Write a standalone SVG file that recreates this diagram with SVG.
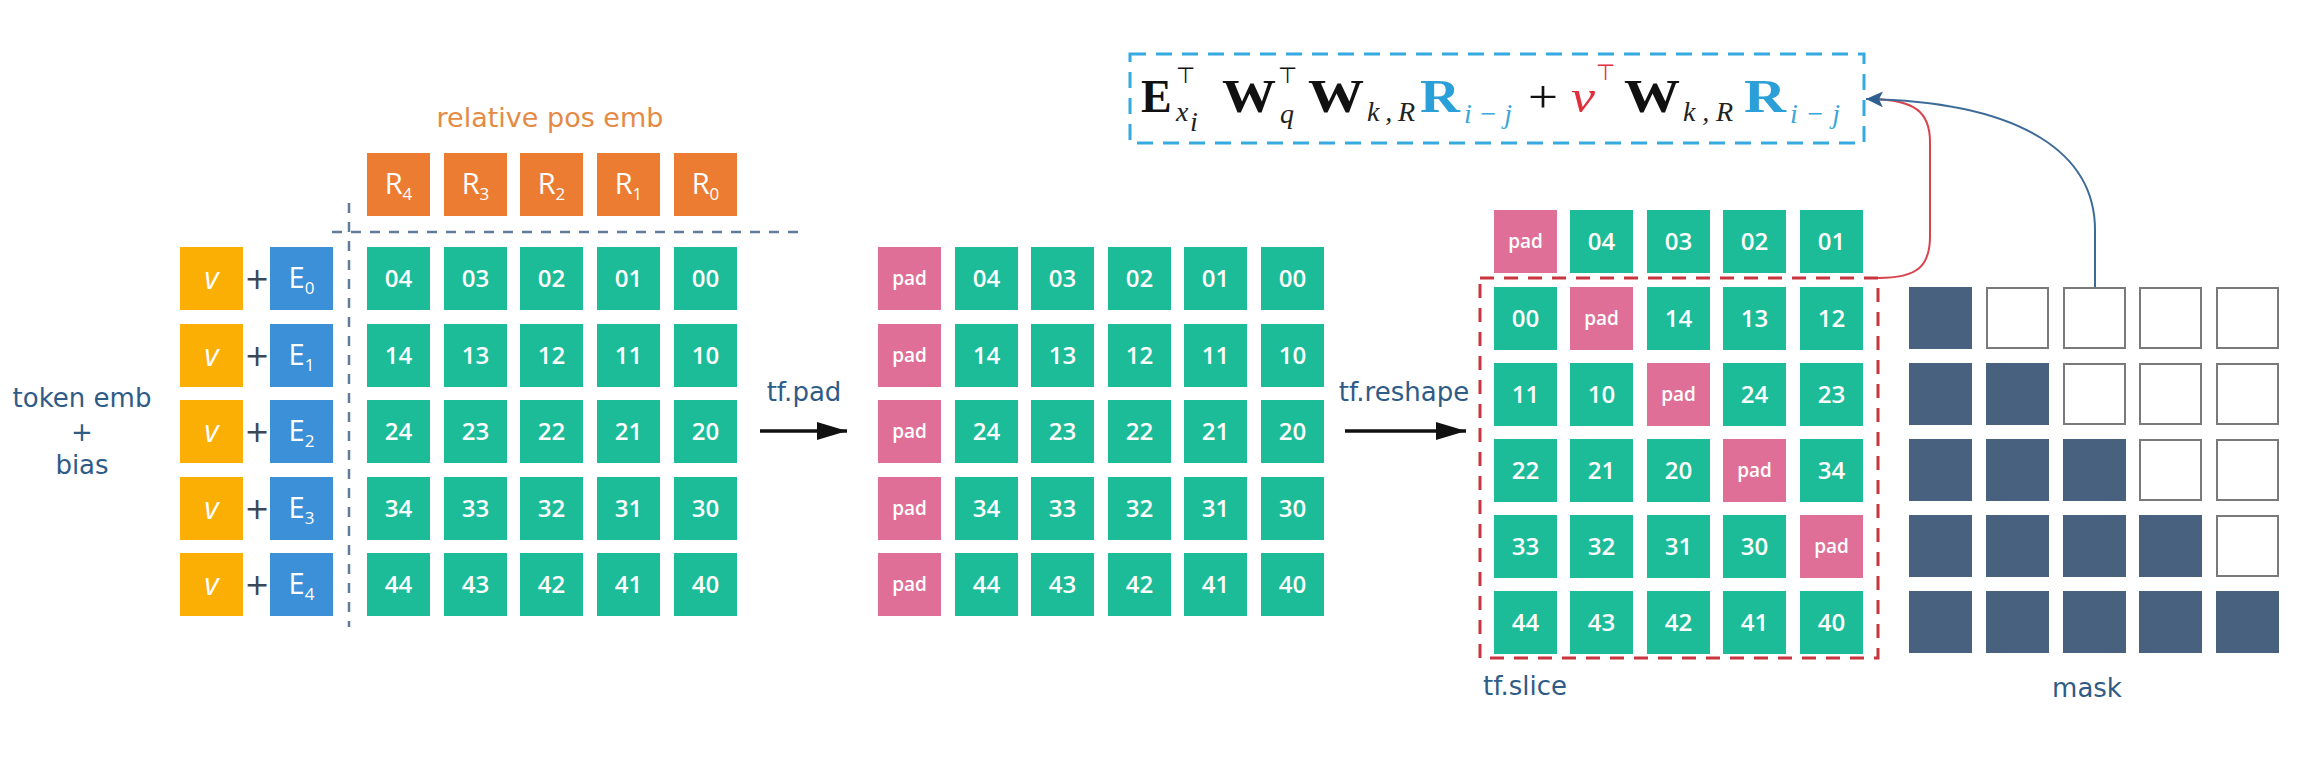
<svg xmlns="http://www.w3.org/2000/svg" width="2317" height="784" viewBox="0 0 2317 784">
<style>
.g{fill:#1bbc97}.p{fill:#df6f96}.o{fill:#ec7c31}.yl{fill:#fbae03}.b{fill:#3b90d8}.mk{fill:#48617f}.me{fill:#fff;stroke:#7a7a7a;stroke-width:2}
.t{font-family:"Open Sans","DejaVu Sans",sans-serif;font-weight:600;font-size:24px;fill:#fff;text-anchor:middle}
.tp{font-size:19px}
.tr{font-family:"Open Sans","DejaVu Sans",sans-serif;font-weight:400;font-size:29px;fill:#fff;text-anchor:middle}
.tv{font-family:"Open Sans","DejaVu Sans",sans-serif;font-style:italic;font-weight:400;font-size:31px;fill:#fff;text-anchor:middle}
.pl{font-family:"DejaVu Sans",sans-serif;font-size:30px;fill:#3a4756;text-anchor:middle}
.lab{font-family:"DejaVu Sans",sans-serif;font-size:26px;fill:#2f5b87}
.rel{font-family:"DejaVu Sans",sans-serif;font-size:27px;fill:#e48a45;text-anchor:middle}
.dl{stroke:#5f7c99;stroke-width:2.5;stroke-dasharray:10 9;fill:none}
.fb{font-family:"Liberation Serif",serif;font-weight:bold;font-size:46px;fill:#111}
.fbb{font-family:"Liberation Serif",serif;font-weight:bold;font-size:46px;fill:#2a9fd8}
.fi{font-family:"Liberation Serif",serif;font-style:italic;font-size:28px;fill:#222}
.fib{font-family:"Liberation Serif",serif;font-style:italic;font-size:28px;fill:#3aa6dc}
.ft{font-family:"DejaVu Sans",sans-serif;font-size:22px;fill:#111}
.ftr{font-family:"DejaVu Sans",sans-serif;font-size:22px;fill:#e0303c}
</style>
<defs>
<marker id="ah" markerUnits="userSpaceOnUse" markerWidth="30" markerHeight="18" refX="30" refY="9" orient="auto"><path d="M0,0 L30,9 L0,18 z" fill="#111"/></marker>
<marker id="ab" markerUnits="userSpaceOnUse" markerWidth="18" markerHeight="16" refX="17" refY="8" orient="auto"><path d="M0,0 L17,8 L0,16 L4,8 z" fill="#2e5f8f"/></marker>
</defs>
<rect width="2317" height="784" fill="#fff"/>

<g id="formula">
<rect x="1130" y="54" width="734" height="89" fill="none" stroke="#35a9e0" stroke-width="3" stroke-dasharray="16 10"/>
<text class="fb" x="1141" y="112">E</text>
<text class="ft" x="1176" y="83">⊤</text>
<text class="fi" x="1176" y="121">x</text>
<text class="fi" x="1190" y="131" font-size="20">i</text>
<text class="fb" x="1222" y="112" textLength="54" lengthAdjust="spacingAndGlyphs">W</text>
<text class="ft" x="1278" y="83">⊤</text>
<text class="fi" x="1280" y="123">q</text>
<text class="fb" x="1308" y="112" textLength="56" lengthAdjust="spacingAndGlyphs">W</text>
<text class="fi" x="1367" y="121" textLength="48" lengthAdjust="spacing">k,R</text>
<text class="fbb" x="1420" y="112" textLength="40" lengthAdjust="spacingAndGlyphs">R</text>
<text class="fib" x="1464" y="123" textLength="48" lengthAdjust="spacing">i−j</text>
<text x="1528" y="112" font-family="Liberation Serif,serif" font-size="46" fill="#111" textLength="30" lengthAdjust="spacingAndGlyphs">+</text>
<text x="1571" y="112" font-family="Liberation Serif,serif" font-style="italic" font-size="46" fill="#e0303c" textLength="24" lengthAdjust="spacingAndGlyphs">v</text>
<text class="ftr" x="1596" y="80">⊤</text>
<text class="fb" x="1624" y="112" textLength="56" lengthAdjust="spacingAndGlyphs">W</text>
<text class="fi" x="1683" y="121" textLength="50" lengthAdjust="spacing">k,R</text>
<text class="fbb" x="1744" y="112" textLength="42" lengthAdjust="spacingAndGlyphs">R</text>
<text class="fib" x="1790" y="123" textLength="50" lengthAdjust="spacing">i−j</text>
</g>

<g id="labels">
<text class="lab" x="82" y="407" text-anchor="middle">token emb</text>
<text class="lab" x="82" y="441" text-anchor="middle">+</text>
<text class="lab" x="82" y="474" text-anchor="middle">bias</text>
<text class="rel" x="550" y="127">relative pos emb</text>
<text class="lab" x="804" y="401" text-anchor="middle">tf.pad</text>
<text class="lab" x="1404" y="401" text-anchor="middle">tf.reshape</text>
<text class="lab" x="1483" y="695">tf.slice</text>
<text class="lab" x="2087" y="697" text-anchor="middle">mask</text>
</g>

<g id="connectors">
<line class="dl" x1="349" y1="203" x2="349" y2="627"/>
<line class="dl" x1="332" y1="232" x2="802" y2="232"/>
<line x1="760" y1="431" x2="847" y2="431" stroke="#111" stroke-width="3.5" marker-end="url(#ah)"/>
<line x1="1345" y1="431" x2="1466" y2="431" stroke="#111" stroke-width="3.5" marker-end="url(#ah)"/>
<rect x="1480" y="278" width="398" height="380" fill="none" stroke="#c9353f" stroke-width="3" stroke-dasharray="14 10"/>
<path d="M1878,278 C1918,278 1930,266 1930,236 L1930,142 C1930,112 1915,100 1872,99" fill="none" stroke="#d9434d" stroke-width="2"/>
<path d="M2095,287 L2095,230 C2095,155 2025,102 1866,99" fill="none" stroke="#3d6b98" stroke-width="2" marker-end="url(#ab)"/>
</g>

<g id="token-bias">
<g id="v0"><rect class="yl" x="180" y="247" width="63" height="63"/><text class="tv" x="211.5" y="289">v</text></g>
<g id="v1"><rect class="yl" x="180" y="324" width="63" height="63"/><text class="tv" x="211.5" y="366">v</text></g>
<g id="v2"><rect class="yl" x="180" y="400" width="63" height="63"/><text class="tv" x="211.5" y="442">v</text></g>
<g id="v3"><rect class="yl" x="180" y="477" width="63" height="63"/><text class="tv" x="211.5" y="519">v</text></g>
<g id="v4"><rect class="yl" x="180" y="553" width="63" height="63"/><text class="tv" x="211.5" y="595">v</text></g>
<text class="pl" x="257" y="289">+</text>
<text class="pl" x="257" y="366">+</text>
<text class="pl" x="257" y="442">+</text>
<text class="pl" x="257" y="519">+</text>
<text class="pl" x="257" y="595">+</text>
<g id="e0"><rect class="b" x="270" y="247" width="63" height="63"/><text class="tr" x="301.5" y="288">E<tspan font-size="17" dy="6">0</tspan></text></g>
<g id="e1"><rect class="b" x="270" y="324" width="63" height="63"/><text class="tr" x="301.5" y="365">E<tspan font-size="17" dy="6">1</tspan></text></g>
<g id="e2"><rect class="b" x="270" y="400" width="63" height="63"/><text class="tr" x="301.5" y="441">E<tspan font-size="17" dy="6">2</tspan></text></g>
<g id="e3"><rect class="b" x="270" y="477" width="63" height="63"/><text class="tr" x="301.5" y="518">E<tspan font-size="17" dy="6">3</tspan></text></g>
<g id="e4"><rect class="b" x="270" y="553" width="63" height="63"/><text class="tr" x="301.5" y="594">E<tspan font-size="17" dy="6">4</tspan></text></g>
</g>

<g id="rel-pos">
<g id="r4"><rect class="o" x="367" y="153" width="63" height="63"/><text class="tr" x="398.5" y="194">R<tspan font-size="17" dy="6">4</tspan></text></g>
<g id="r3"><rect class="o" x="444" y="153" width="63" height="63"/><text class="tr" x="475.5" y="194">R<tspan font-size="17" dy="6">3</tspan></text></g>
<g id="r2"><rect class="o" x="520" y="153" width="63" height="63"/><text class="tr" x="551.5" y="194">R<tspan font-size="17" dy="6">2</tspan></text></g>
<g id="r1"><rect class="o" x="597" y="153" width="63" height="63"/><text class="tr" x="628.5" y="194">R<tspan font-size="17" dy="6">1</tspan></text></g>
<g id="r0"><rect class="o" x="674" y="153" width="63" height="63"/><text class="tr" x="705.5" y="194">R<tspan font-size="17" dy="6">0</tspan></text></g>
</g>

<g id="grid-a">
<g id="a04"><rect class="g" x="367" y="247" width="63" height="63"/><text class="t" x="398.5" y="287">04</text></g>
<g id="a03"><rect class="g" x="444" y="247" width="63" height="63"/><text class="t" x="475.5" y="287">03</text></g>
<g id="a02"><rect class="g" x="520" y="247" width="63" height="63"/><text class="t" x="551.5" y="287">02</text></g>
<g id="a01"><rect class="g" x="597" y="247" width="63" height="63"/><text class="t" x="628.5" y="287">01</text></g>
<g id="a00"><rect class="g" x="674" y="247" width="63" height="63"/><text class="t" x="705.5" y="287">00</text></g>
<g id="a14"><rect class="g" x="367" y="324" width="63" height="63"/><text class="t" x="398.5" y="364">14</text></g>
<g id="a13"><rect class="g" x="444" y="324" width="63" height="63"/><text class="t" x="475.5" y="364">13</text></g>
<g id="a12"><rect class="g" x="520" y="324" width="63" height="63"/><text class="t" x="551.5" y="364">12</text></g>
<g id="a11"><rect class="g" x="597" y="324" width="63" height="63"/><text class="t" x="628.5" y="364">11</text></g>
<g id="a10"><rect class="g" x="674" y="324" width="63" height="63"/><text class="t" x="705.5" y="364">10</text></g>
<g id="a24"><rect class="g" x="367" y="400" width="63" height="63"/><text class="t" x="398.5" y="440">24</text></g>
<g id="a23"><rect class="g" x="444" y="400" width="63" height="63"/><text class="t" x="475.5" y="440">23</text></g>
<g id="a22"><rect class="g" x="520" y="400" width="63" height="63"/><text class="t" x="551.5" y="440">22</text></g>
<g id="a21"><rect class="g" x="597" y="400" width="63" height="63"/><text class="t" x="628.5" y="440">21</text></g>
<g id="a20"><rect class="g" x="674" y="400" width="63" height="63"/><text class="t" x="705.5" y="440">20</text></g>
<g id="a34"><rect class="g" x="367" y="477" width="63" height="63"/><text class="t" x="398.5" y="517">34</text></g>
<g id="a33"><rect class="g" x="444" y="477" width="63" height="63"/><text class="t" x="475.5" y="517">33</text></g>
<g id="a32"><rect class="g" x="520" y="477" width="63" height="63"/><text class="t" x="551.5" y="517">32</text></g>
<g id="a31"><rect class="g" x="597" y="477" width="63" height="63"/><text class="t" x="628.5" y="517">31</text></g>
<g id="a30"><rect class="g" x="674" y="477" width="63" height="63"/><text class="t" x="705.5" y="517">30</text></g>
<g id="a44"><rect class="g" x="367" y="553" width="63" height="63"/><text class="t" x="398.5" y="593">44</text></g>
<g id="a43"><rect class="g" x="444" y="553" width="63" height="63"/><text class="t" x="475.5" y="593">43</text></g>
<g id="a42"><rect class="g" x="520" y="553" width="63" height="63"/><text class="t" x="551.5" y="593">42</text></g>
<g id="a41"><rect class="g" x="597" y="553" width="63" height="63"/><text class="t" x="628.5" y="593">41</text></g>
<g id="a40"><rect class="g" x="674" y="553" width="63" height="63"/><text class="t" x="705.5" y="593">40</text></g>
</g>

<g id="grid-b">
<g id="bp0"><rect class="p" x="878" y="247" width="63" height="63"/><text class="t tp" x="909.5" y="285">pad</text></g>
<g id="b04"><rect class="g" x="955" y="247" width="63" height="63"/><text class="t" x="986.5" y="287">04</text></g>
<g id="b03"><rect class="g" x="1031" y="247" width="63" height="63"/><text class="t" x="1062.5" y="287">03</text></g>
<g id="b02"><rect class="g" x="1108" y="247" width="63" height="63"/><text class="t" x="1139.5" y="287">02</text></g>
<g id="b01"><rect class="g" x="1184" y="247" width="63" height="63"/><text class="t" x="1215.5" y="287">01</text></g>
<g id="b00"><rect class="g" x="1261" y="247" width="63" height="63"/><text class="t" x="1292.5" y="287">00</text></g>
<g id="bp1"><rect class="p" x="878" y="324" width="63" height="63"/><text class="t tp" x="909.5" y="362">pad</text></g>
<g id="b14"><rect class="g" x="955" y="324" width="63" height="63"/><text class="t" x="986.5" y="364">14</text></g>
<g id="b13"><rect class="g" x="1031" y="324" width="63" height="63"/><text class="t" x="1062.5" y="364">13</text></g>
<g id="b12"><rect class="g" x="1108" y="324" width="63" height="63"/><text class="t" x="1139.5" y="364">12</text></g>
<g id="b11"><rect class="g" x="1184" y="324" width="63" height="63"/><text class="t" x="1215.5" y="364">11</text></g>
<g id="b10"><rect class="g" x="1261" y="324" width="63" height="63"/><text class="t" x="1292.5" y="364">10</text></g>
<g id="bp2"><rect class="p" x="878" y="400" width="63" height="63"/><text class="t tp" x="909.5" y="438">pad</text></g>
<g id="b24"><rect class="g" x="955" y="400" width="63" height="63"/><text class="t" x="986.5" y="440">24</text></g>
<g id="b23"><rect class="g" x="1031" y="400" width="63" height="63"/><text class="t" x="1062.5" y="440">23</text></g>
<g id="b22"><rect class="g" x="1108" y="400" width="63" height="63"/><text class="t" x="1139.5" y="440">22</text></g>
<g id="b21"><rect class="g" x="1184" y="400" width="63" height="63"/><text class="t" x="1215.5" y="440">21</text></g>
<g id="b20"><rect class="g" x="1261" y="400" width="63" height="63"/><text class="t" x="1292.5" y="440">20</text></g>
<g id="bp3"><rect class="p" x="878" y="477" width="63" height="63"/><text class="t tp" x="909.5" y="515">pad</text></g>
<g id="b34"><rect class="g" x="955" y="477" width="63" height="63"/><text class="t" x="986.5" y="517">34</text></g>
<g id="b33"><rect class="g" x="1031" y="477" width="63" height="63"/><text class="t" x="1062.5" y="517">33</text></g>
<g id="b32"><rect class="g" x="1108" y="477" width="63" height="63"/><text class="t" x="1139.5" y="517">32</text></g>
<g id="b31"><rect class="g" x="1184" y="477" width="63" height="63"/><text class="t" x="1215.5" y="517">31</text></g>
<g id="b30"><rect class="g" x="1261" y="477" width="63" height="63"/><text class="t" x="1292.5" y="517">30</text></g>
<g id="bp4"><rect class="p" x="878" y="553" width="63" height="63"/><text class="t tp" x="909.5" y="591">pad</text></g>
<g id="b44"><rect class="g" x="955" y="553" width="63" height="63"/><text class="t" x="986.5" y="593">44</text></g>
<g id="b43"><rect class="g" x="1031" y="553" width="63" height="63"/><text class="t" x="1062.5" y="593">43</text></g>
<g id="b42"><rect class="g" x="1108" y="553" width="63" height="63"/><text class="t" x="1139.5" y="593">42</text></g>
<g id="b41"><rect class="g" x="1184" y="553" width="63" height="63"/><text class="t" x="1215.5" y="593">41</text></g>
<g id="b40"><rect class="g" x="1261" y="553" width="63" height="63"/><text class="t" x="1292.5" y="593">40</text></g>
</g>

<g id="grid-c">
<g id="c0a"><rect class="p" x="1494" y="210" width="63" height="63"/><text class="t tp" x="1525.5" y="248">pad</text></g>
<g id="c0b"><rect class="g" x="1570" y="210" width="63" height="63"/><text class="t" x="1601.5" y="250">04</text></g>
<g id="c0c"><rect class="g" x="1647" y="210" width="63" height="63"/><text class="t" x="1678.5" y="250">03</text></g>
<g id="c0d"><rect class="g" x="1723" y="210" width="63" height="63"/><text class="t" x="1754.5" y="250">02</text></g>
<g id="c0e"><rect class="g" x="1800" y="210" width="63" height="63"/><text class="t" x="1831.5" y="250">01</text></g>
<g id="c1a"><rect class="g" x="1494" y="287" width="63" height="63"/><text class="t" x="1525.5" y="327">00</text></g>
<g id="c1b"><rect class="p" x="1570" y="287" width="63" height="63"/><text class="t tp" x="1601.5" y="325">pad</text></g>
<g id="c1c"><rect class="g" x="1647" y="287" width="63" height="63"/><text class="t" x="1678.5" y="327">14</text></g>
<g id="c1d"><rect class="g" x="1723" y="287" width="63" height="63"/><text class="t" x="1754.5" y="327">13</text></g>
<g id="c1e"><rect class="g" x="1800" y="287" width="63" height="63"/><text class="t" x="1831.5" y="327">12</text></g>
<g id="c2a"><rect class="g" x="1494" y="363" width="63" height="63"/><text class="t" x="1525.5" y="403">11</text></g>
<g id="c2b"><rect class="g" x="1570" y="363" width="63" height="63"/><text class="t" x="1601.5" y="403">10</text></g>
<g id="c2c"><rect class="p" x="1647" y="363" width="63" height="63"/><text class="t tp" x="1678.5" y="401">pad</text></g>
<g id="c2d"><rect class="g" x="1723" y="363" width="63" height="63"/><text class="t" x="1754.5" y="403">24</text></g>
<g id="c2e"><rect class="g" x="1800" y="363" width="63" height="63"/><text class="t" x="1831.5" y="403">23</text></g>
<g id="c3a"><rect class="g" x="1494" y="439" width="63" height="63"/><text class="t" x="1525.5" y="479">22</text></g>
<g id="c3b"><rect class="g" x="1570" y="439" width="63" height="63"/><text class="t" x="1601.5" y="479">21</text></g>
<g id="c3c"><rect class="g" x="1647" y="439" width="63" height="63"/><text class="t" x="1678.5" y="479">20</text></g>
<g id="c3d"><rect class="p" x="1723" y="439" width="63" height="63"/><text class="t tp" x="1754.5" y="477">pad</text></g>
<g id="c3e"><rect class="g" x="1800" y="439" width="63" height="63"/><text class="t" x="1831.5" y="479">34</text></g>
<g id="c4a"><rect class="g" x="1494" y="515" width="63" height="63"/><text class="t" x="1525.5" y="555">33</text></g>
<g id="c4b"><rect class="g" x="1570" y="515" width="63" height="63"/><text class="t" x="1601.5" y="555">32</text></g>
<g id="c4c"><rect class="g" x="1647" y="515" width="63" height="63"/><text class="t" x="1678.5" y="555">31</text></g>
<g id="c4d"><rect class="g" x="1723" y="515" width="63" height="63"/><text class="t" x="1754.5" y="555">30</text></g>
<g id="c4e"><rect class="p" x="1800" y="515" width="63" height="63"/><text class="t tp" x="1831.5" y="553">pad</text></g>
<g id="c5a"><rect class="g" x="1494" y="591" width="63" height="63"/><text class="t" x="1525.5" y="631">44</text></g>
<g id="c5b"><rect class="g" x="1570" y="591" width="63" height="63"/><text class="t" x="1601.5" y="631">43</text></g>
<g id="c5c"><rect class="g" x="1647" y="591" width="63" height="63"/><text class="t" x="1678.5" y="631">42</text></g>
<g id="c5d"><rect class="g" x="1723" y="591" width="63" height="63"/><text class="t" x="1754.5" y="631">41</text></g>
<g id="c5e"><rect class="g" x="1800" y="591" width="63" height="63"/><text class="t" x="1831.5" y="631">40</text></g>
</g>

<g id="mask">
<rect class="mk" x="1909" y="287" width="63" height="62"/>
<rect class="me" x="1987" y="288" width="61" height="60"/>
<rect class="me" x="2064" y="288" width="61" height="60"/>
<rect class="me" x="2140" y="288" width="61" height="60"/>
<rect class="me" x="2217" y="288" width="61" height="60"/>
<rect class="mk" x="1909" y="363" width="63" height="62"/>
<rect class="mk" x="1986" y="363" width="63" height="62"/>
<rect class="me" x="2064" y="364" width="61" height="60"/>
<rect class="me" x="2140" y="364" width="61" height="60"/>
<rect class="me" x="2217" y="364" width="61" height="60"/>
<rect class="mk" x="1909" y="439" width="63" height="62"/>
<rect class="mk" x="1986" y="439" width="63" height="62"/>
<rect class="mk" x="2063" y="439" width="63" height="62"/>
<rect class="me" x="2140" y="440" width="61" height="60"/>
<rect class="me" x="2217" y="440" width="61" height="60"/>
<rect class="mk" x="1909" y="515" width="63" height="62"/>
<rect class="mk" x="1986" y="515" width="63" height="62"/>
<rect class="mk" x="2063" y="515" width="63" height="62"/>
<rect class="mk" x="2139" y="515" width="63" height="62"/>
<rect class="me" x="2217" y="516" width="61" height="60"/>
<rect class="mk" x="1909" y="591" width="63" height="62"/>
<rect class="mk" x="1986" y="591" width="63" height="62"/>
<rect class="mk" x="2063" y="591" width="63" height="62"/>
<rect class="mk" x="2139" y="591" width="63" height="62"/>
<rect class="mk" x="2216" y="591" width="63" height="62"/>
</g>
</svg>
